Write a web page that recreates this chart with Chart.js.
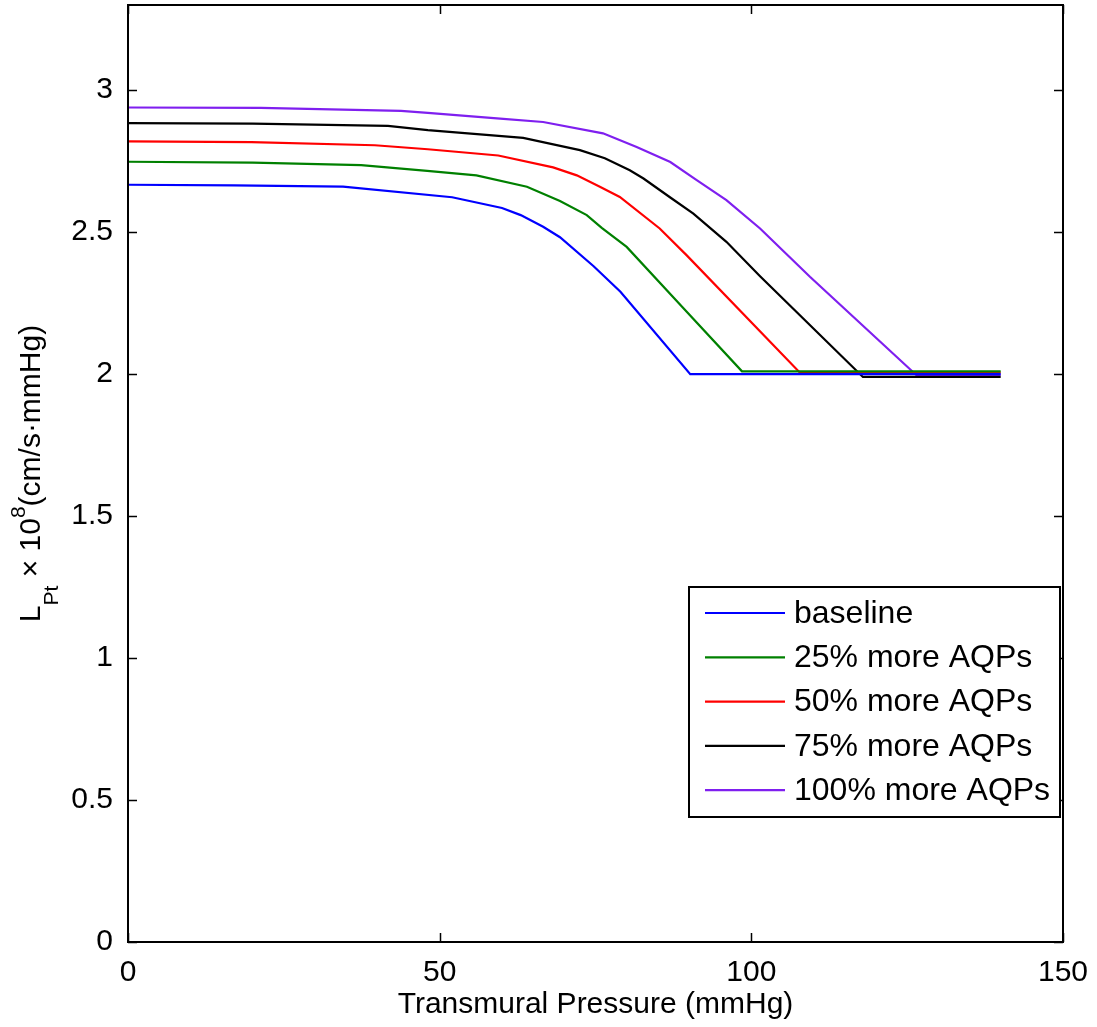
<!DOCTYPE html>
<html>
<head>
<meta charset="utf-8">
<script src="https://cdn.jsdelivr.net/npm/chart.js@4.4.1/dist/chart.umd.min.js"></script>
<style>
html,body{margin:0;padding:0;background:#fff;}
#c{display:block;}
</style>
</head>
<body>
<canvas id="c" width="1097" height="1027"></canvas>
<script>
// ---- Data ----
const seriesLabels = ['baseline', '25% more AQPs', '50% more AQPs', '75% more AQPs', '100% more AQPs'];
const seriesColors = ['#0000ff', '#008000', '#ff0000', '#000000', '#7f1fef'];

const baselineX = [0, 17, 34.5, 52, 60, 63, 66.6, 69.3, 74.7, 79, 90.2, 140];
const baselineY = [2.667, 2.665, 2.660, 2.623, 2.585, 2.560, 2.519, 2.482, 2.380, 2.290, 2.000, 2.000];

const aqp25X = [0, 20, 37.4, 48, 55.9, 64, 69.3, 73.6, 76, 80, 89, 98.5, 140];
const aqp25Y = [2.748, 2.745, 2.736, 2.716, 2.700, 2.660, 2.610, 2.560, 2.515, 2.448, 2.235, 2.010, 2.010];

const aqp50X = [0, 19.8, 39.6, 48.1, 59.4, 68.2, 72, 75.7, 78.9, 85.3, 89.6, 107.8, 140];
const aqp50Y = [2.820, 2.817, 2.806, 2.792, 2.770, 2.728, 2.700, 2.660, 2.624, 2.513, 2.419, 2.005, 2.005];

const aqp75X = [0, 20, 41.7, 48.1, 63.4, 72.5, 76.5, 80.5, 82.7, 87, 90.7, 96, 101.4, 117.9, 140];
const aqp75Y = [2.884, 2.882, 2.874, 2.859, 2.832, 2.789, 2.760, 2.718, 2.689, 2.622, 2.565, 2.466, 2.345, 1.990, 1.990];

const aqp100X = [0, 21.3, 43.8, 48.1, 59.7, 66.6, 76.2, 81.6, 87, 91, 96, 101.4, 109.4, 126.5, 140];
const aqp100Y = [2.939, 2.938, 2.927, 2.920, 2.900, 2.888, 2.848, 2.800, 2.747, 2.687, 2.613, 2.513, 2.343, 1.996, 1.996];

const xTicks = [0, 50, 100, 150];
const yTicks = [0, 0.5, 1, 1.5, 2, 2.5, 3];
const xTitle = 'Transmural Pressure (mmHg)';

// ---- Build datasets ----
const allX = [baselineX, aqp25X, aqp50X, aqp75X, aqp100X];
const allY = [baselineY, aqp25Y, aqp50Y, aqp75Y, aqp100Y];
const datasets = seriesLabels.map((lab, i) => ({
  label: lab,
  data: allX[i].map((x, j) => ({x: x, y: allY[i][j]})),
  borderColor: seriesColors[i],
  backgroundColor: seriesColors[i],
  borderWidth: 2.2,
  pointRadius: 0,
  tension: 0,
  fill: false
}));

const FONT = '"Liberation Sans", Arial, Helvetica, sans-serif';

function zeroPad(s) { s.paddingTop = 0; s.paddingBottom = 0; s.paddingLeft = 0; s.paddingRight = 0; }

// Box and inward ticks on all four sides
const framePlugin = {
  id: 'frame',
  afterDraw(chart) {
    const ctx = chart.ctx, ca = chart.chartArea;
    const xs = chart.scales.x, ys = chart.scales.y;
    ctx.save();
    ctx.strokeStyle = '#000';
    ctx.lineWidth = 1.5;
    const L = 9;
    ctx.beginPath();
    xTicks.forEach(v => {
      const p = Math.round(xs.getPixelForValue(v)) + 0.5;
      ctx.moveTo(p, ca.bottom); ctx.lineTo(p, ca.bottom - L);
      ctx.moveTo(p, ca.top); ctx.lineTo(p, ca.top + L);
    });
    yTicks.forEach(v => {
      const p = Math.round(ys.getPixelForValue(v)) + 0.5;
      ctx.moveTo(ca.left, p); ctx.lineTo(ca.left + L, p);
      ctx.moveTo(ca.right, p); ctx.lineTo(ca.right - L, p);
    });
    ctx.stroke();
    ctx.lineWidth = 2;
    ctx.strokeRect(ca.left, ca.top, ca.right - ca.left, ca.bottom - ca.top);
    ctx.restore();
  }
};

// Legend box inside the plot
const legendPlugin = {
  id: 'boxLegend',
  afterDraw(chart) {
    const ctx = chart.ctx;
    const bx0 = 689, by0 = 587, bx1 = 1060, by1 = 817;
    ctx.save();
    ctx.fillStyle = '#fff';
    ctx.fillRect(bx0, by0, bx1 - bx0, by1 - by0);
    ctx.strokeStyle = '#000';
    ctx.lineWidth = 2;
    ctx.strokeRect(bx0, by0, bx1 - bx0, by1 - by0);
    ctx.font = '32px ' + FONT;
    ctx.textBaseline = 'middle';
    ctx.textAlign = 'left';
    chart.data.datasets.forEach((ds, i) => {
      const y = 613 + i * 44.3;
      ctx.strokeStyle = ds.borderColor;
      ctx.lineWidth = 2.2;
      ctx.beginPath();
      ctx.moveTo(705, y); ctx.lineTo(785, y);
      ctx.stroke();
      ctx.fillStyle = '#000';
      ctx.fillText(ds.label, 794, y + 1);
    });
    ctx.restore();
  }
};

// Y axis title with subscript and superscript
const yTitlePlugin = {
  id: 'yTitle',
  afterDraw(chart) {
    const ctx = chart.ctx, ca = chart.chartArea;
    const cy = (ca.top + ca.bottom) / 2;
    const big = '30px ' + FONT, small = '21px ' + FONT;
    const parts = [
      {t: 'L', f: big, dy: 0},
      {t: 'Pt', f: small, dy: 18},
      {t: ' \u00d7 10', f: big, dy: 0},
      {t: '8', f: small, dy: -15},
      {t: '(cm/s\u00b7mmHg)', f: big, dy: 0}
    ];
    ctx.save();
    let total = 0;
    parts.forEach(p => { ctx.font = p.f; p.w = ctx.measureText(p.t).width; total += p.w; });
    ctx.translate(40, cy);
    ctx.rotate(-Math.PI / 2);
    ctx.fillStyle = '#000';
    ctx.textBaseline = 'alphabetic';
    ctx.textAlign = 'left';
    let x = -total / 2;
    parts.forEach(p => { ctx.font = p.f; ctx.fillText(p.t, x, p.dy); x += p.w; });
    ctx.restore();
  }
};

new Chart(document.getElementById('c'), {
  type: 'line',
  data: {datasets: datasets},
  options: {
    responsive: false,
    animation: false,
    devicePixelRatio: 1,
    layout: {padding: {top: 5, right: 34, left: 0, bottom: 0}},
    plugins: {legend: {display: false}, tooltip: {enabled: false}, title: {display: false}},
    scales: {
      x: {
        type: 'linear',
        min: 0, max: 150,
        afterFit(s) { s.height = 85; zeroPad(s); },
        afterBuildTicks(s) { s.ticks = xTicks.map(v => ({value: v})); },
        grid: {display: false, drawTicks: false},
        border: {display: false},
        ticks: {color: '#000', font: {family: FONT, size: 30}, padding: 13, maxRotation: 0, autoSkip: false},
        title: {display: true, text: xTitle, color: '#000', font: {family: FONT, size: 30}, padding: {top: 0, bottom: 4}}
      },
      y: {
        type: 'linear',
        min: 0, max: 3.3,
        afterFit(s) { s.width = 128; zeroPad(s); },
        afterBuildTicks(s) { s.ticks = yTicks.map(v => ({value: v})); },
        grid: {display: false, drawTicks: false},
        border: {display: false},
        ticks: {color: '#000', font: {family: FONT, size: 30}, padding: 15, autoSkip: false,
          callback: v => String(v)}
      }
    }
  },
  plugins: [framePlugin, legendPlugin, yTitlePlugin]
});
</script>
</body>
</html>
